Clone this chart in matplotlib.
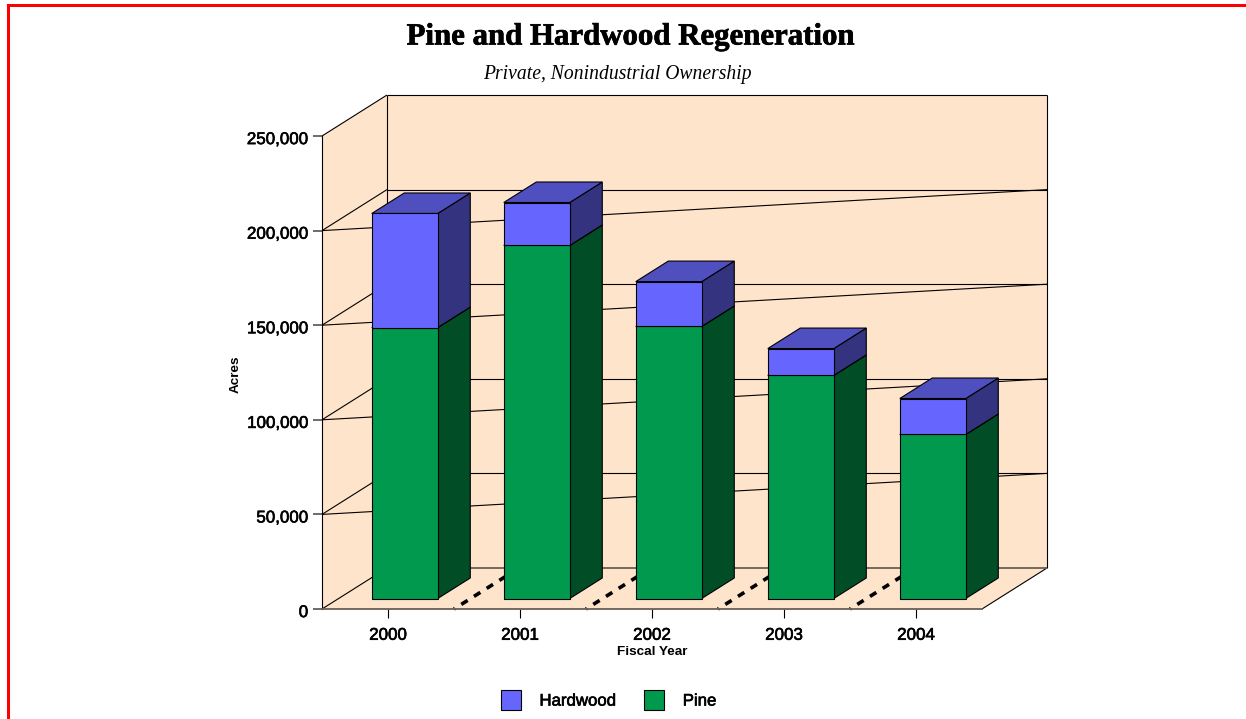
import matplotlib
matplotlib.use("Agg")
import matplotlib.pyplot as plt
import matplotlib.patheffects as pe
from matplotlib.patches import Polygon, Patch, Rectangle
from matplotlib.ticker import FuncFormatter

plt.rcParams['lines.scale_dashes'] = False

years = ['2000', '2001', '2002', '2003', '2004']
pine = [143200, 186600, 143800, 117900, 86700]
hardwood = [60300, 22700, 23700, 14200, 19000]
y_ticks = [0, 50000, 100000, 150000, 200000, 250000]

W, H = 1246, 719
PEACH = '#FFE4CC'
HW = ('#6666FF', '#333380', '#4F4FBF')
PN = ('#00994D', '#004D26', '#007A3D')

fig = plt.figure(figsize=(W / 100, H / 100), dpi=100, facecolor='white')
ax = fig.add_axes([322 / W, 1 - 609 / H, 660 / W, 473 / H])
ax.set_xlim(0, len(years))
ax.set_ylim(0, y_ticks[-1])
ax.patch.set_visible(False)

# depth of the pseudo-3D box, in data units
DX = 65 / 132
DY = 41 / 473 * y_ticks[-1]
X1 = len(years)
YT = y_ticks[-1]


def poly(pts, fc, z, ec='black', lw=0.8):
    ax.add_patch(Polygon(pts, closed=True, fc=fc, ec=ec, lw=lw, zorder=z,
                         clip_on=False, joinstyle='miter'))


def line(xs, ys, z=1.5, color='black', lw=0.8, **kw):
    ax.plot(xs, ys, color=color, lw=lw, zorder=z, clip_on=False,
            solid_capstyle='butt', **kw)


# walls and floor
poly([(0, 0), (DX, DY), (X1 + DX, DY), (X1 + DX, YT + DY), (DX, YT + DY), (0, YT)],
     PEACH, 1, ec='none', lw=0)
poly([(0, 0), (X1, 0), (X1 + DX, DY), (DX, DY)], PEACH, 1, ec='none', lw=0)
line([DX, DX], [DY, YT + DY])
line([X1 + DX, X1 + DX], [DY, YT + DY])
line([DX, X1 + DX], [YT + DY, YT + DY])
line([0, DX], [YT, YT + DY])
line([X1, X1 + DX], [0, DY])
line([0, DX], [0, DY])
line([DX, X1 + DX], [DY, DY], color='#6b5f55', lw=1.3)

# grid: side wall, back wall and sloped line
for v in y_ticks[1:-1]:
    line([0, DX], [v, v + DY])
    line([DX, X1 + DX], [v + DY, v + DY])
    line([0, X1 + DX], [v, v + DY])

# dashed floor separators
for i in range(1, len(years)):
    ax.plot([i, i + DX], [0, DY], color='black', lw=2.6, zorder=1.6, clip_on=False,
            dash_capstyle='butt', linestyle=(4.6, (5.4, 5.4)))

# bars
B0 = 0.25
shift = 10.5 / 473 * YT
for i in range(len(years)):
    x0 = i + 0.25 + B0 * DX + 0.004
    x1 = x0 + 0.5
    dx, dy = 0.5 * DX, 0.5 * DY
    y_base = 0
    for val, cols in ((pine[i], PN), (hardwood[i], HW)):
        a, b = y_base + shift, y_base + val + shift
        poly([(x1, a), (x1 + dx, a + dy), (x1 + dx, b + dy), (x1, b)], cols[1], 3)
        poly([(x0, b), (x1, b), (x1 + dx, b + dy), (x0 + dx, b + dy)], cols[2], 3)
        poly([(x0, a), (x1, a), (x1, b), (x0, b)], cols[0], 3.1)
        y_base += val

# axes furniture
bold = [pe.Stroke(linewidth=0.45, foreground='black'), pe.Normal()]
sans = 'Liberation Sans'
for s in ('top', 'right'):
    ax.spines[s].set_visible(False)
ax.spines['left'].set_color('black')
ax.spines['left'].set_linewidth(0.8)
ax.spines['bottom'].set_color('#6b5f55')
ax.spines['bottom'].set_linewidth(1.3)
ax.set_yticks(y_ticks)
ax.yaxis.set_major_formatter(FuncFormatter(lambda v, _: f'{int(v):,}'))
ax.set_xticks([i + 0.5 for i in range(len(years))])
ax.set_xticklabels(years)
ax.tick_params(axis='y', length=6.5, width=1.3, color='#6b5f55', pad=3.5,
               labelsize=12.2)
ax.tick_params(axis='x', length=6.5, width=0.8, color='black', pad=7,
               labelsize=12.2)
for t in ax.get_xticklabels() + ax.get_yticklabels():
    t.set_family(sans)
    t.set_path_effects(bold)
for t in ax.get_yticklabels():
    t.set_y(t.get_position()[1])
    t.set_transform(t.get_transform() + matplotlib.transforms.ScaledTranslation(0, -1.5 / 72, fig.dpi_scale_trans))

fig.text(631 / W, 1 - 37 / H, 'Pine and Hardwood Regeneration', ha='center', va='center',
         family='Liberation Serif', weight='bold', fontsize=22.2, color='black',
         path_effects=[pe.Stroke(linewidth=0.5, foreground='black'), pe.Normal()])
fig.text(617 / W, 1 - 74 / H, 'Private, Nonindustrial Ownership', ha='center', va='center',
         family='Liberation Serif', style='italic', fontsize=14.1, color='black')
fig.text(652 / W, 1 - 652 / H, 'Fiscal Year', ha='center', va='center',
         family=sans, weight='bold', fontsize=9.7)
fig.text(236 / W, 1 - 374 / H, 'Acres', ha='center', va='center', rotation=90,
         family=sans, weight='bold', fontsize=9.7)

handles = [Patch(fc=HW[0], ec='black', lw=0.8, label='Hardwood'),
           Patch(fc=PN[0], ec='black', lw=0.8, label='Pine')]
leg = fig.legend(handles=handles, ncol=2, loc='center',
                 bbox_to_anchor=(608.5 / W, 1 - 700 / H), frameon=False,
                 prop={'family': sans, 'size': 12.1},
                 handlelength=1.19, handleheight=1.4, handletextpad=1.12,
                 columnspacing=1.65, borderpad=0, borderaxespad=0)
for t in leg.get_texts():
    t.set_path_effects(bold)

# red page border (top and left only)
fig.add_artist(Rectangle((7 / W, 1 - 7 / H), (W - 7) / W, 3 / H, transform=fig.transFigure,
                         fc='#FF0000', ec='none'))
fig.add_artist(Rectangle((7 / W, 0), 3 / W, 1 - 4 / H, transform=fig.transFigure,
                         fc='#FF0000', ec='none'))

fig.savefig('out.png', dpi=100, facecolor='white')
